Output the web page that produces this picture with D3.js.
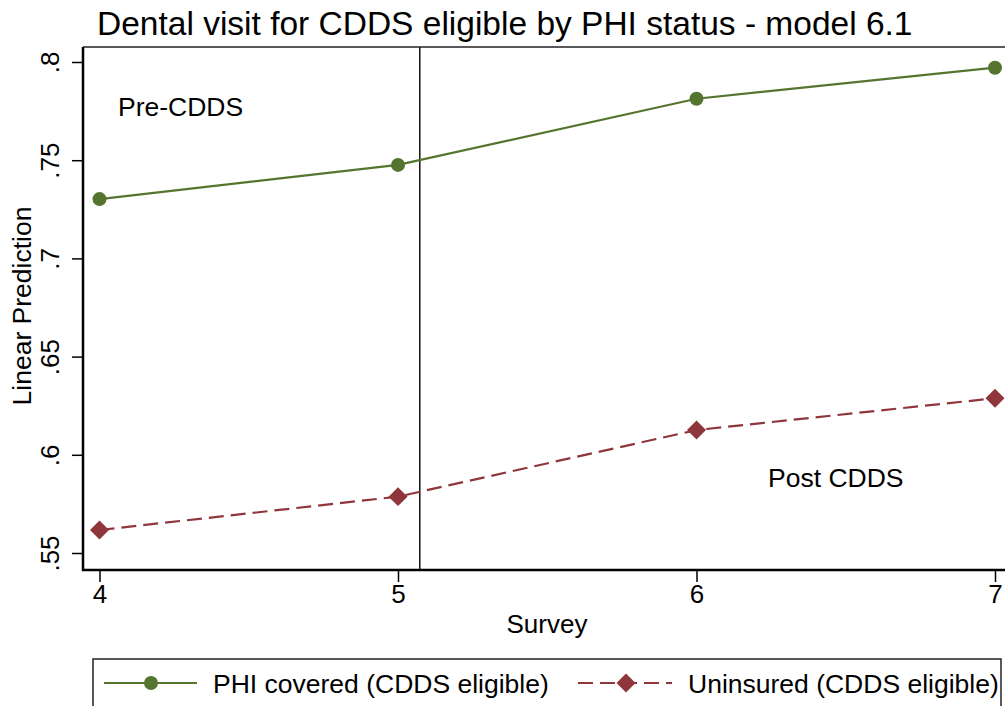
<!DOCTYPE html>
<html>
<head>
<meta charset="utf-8">
<script src="https://cdn.jsdelivr.net/npm/d3@7"></script>
<style>
  html, body { margin: 0; padding: 0; background: #fff; }
  svg { display: block; font-family: "Liberation Sans", Arial, sans-serif; }
</style>
</head>
<body>
<svg id="chart" width="1005" height="706"></svg>
<script>
// Survey waves and predicted probabilities of a dental visit
const surveys = [4, 5, 6, 7];
const phiCovered = [0.7302, 0.7476, 0.7813, 0.7971];
const uninsured = [0.5617, 0.5787, 0.6126, 0.6288];
const yTicks = [0.55, 0.6, 0.65, 0.7, 0.75, 0.8];
const yTickLabels = [".55", ".6", ".65", ".7", ".75", ".8"];
const xTicks = [4, 5, 6, 7];
const policyStart = 5.073;
const seriesNames = ["PHI covered (CDDS eligible)", "Uninsured (CDDS eligible)"];

const green = "#55752f";
const maroon = "#8f353c";

const svg = d3.select("#chart");
const plotLeft = 83, plotTop = 47, plotBottom = 570, plotRight = 1005;

const x = d3.scaleLinear().domain([4, 7]).range([99.5, 995]);
const y = d3.scaleLinear().domain([0.55, 0.8]).range([553, 62]);

// title
svg.append("text")
  .attr("x", 97).attr("y", 35)
  .attr("font-size", 33.5)
  .attr("fill", "#000")
  .text("Dental visit for CDDS eligible by PHI status - model 6.1");

// frame: top border line
svg.append("line")
  .attr("x1", plotLeft).attr("x2", plotRight)
  .attr("y1", plotTop).attr("y2", plotTop)
  .attr("stroke", "#222").attr("stroke-width", 1.5);

// y axis
const yAxis = d3.axisLeft(y)
  .tickValues(yTicks)
  .tickFormat((d, i) => yTickLabels[i])
  .tickSize(11)
  .tickPadding(0);
const gy = svg.append("g").attr("transform", `translate(${plotLeft},0)`).call(yAxis);
gy.select(".domain").remove();
gy.selectAll(".tick line").attr("stroke", "#000").attr("stroke-width", 1.5);
gy.selectAll(".tick text")
  .attr("font-size", 26)
  .attr("fill", "#000")
  .attr("transform", "translate(-24,0) rotate(-90)")
  .attr("x", 0).attr("y", 0).attr("dy", 0)
  .attr("text-anchor", "middle");
gy.append("line")
  .attr("x1", 0).attr("x2", 0).attr("y1", plotTop).attr("y2", plotBottom + 1)
  .attr("stroke", "#000").attr("stroke-width", 2.5);

// x axis
const xAxis = d3.axisBottom(x)
  .tickValues(xTicks)
  .tickFormat(d3.format("d"))
  .tickSize(12)
  .tickPadding(3);
const gx = svg.append("g").attr("transform", `translate(0,${plotBottom})`).call(xAxis);
gx.select(".domain").remove();
gx.selectAll(".tick line").attr("stroke", "#000").attr("stroke-width", 1.5);
gx.selectAll(".tick text").attr("font-size", 26).attr("fill", "#000");
gx.append("line")
  .attr("x1", plotLeft - 1).attr("x2", plotRight).attr("y1", 0).attr("y2", 0)
  .attr("stroke", "#000").attr("stroke-width", 2.5);

// axis titles
svg.append("text")
  .attr("x", 547).attr("y", 633)
  .attr("text-anchor", "middle")
  .attr("font-size", 26)
  .text("Survey");
svg.append("text")
  .attr("transform", "translate(31,306) rotate(-90)")
  .attr("text-anchor", "middle")
  .attr("font-size", 26.5)
  .text("Linear Prediction");

// policy change reference line
svg.append("line")
  .attr("x1", x(policyStart)).attr("x2", x(policyStart))
  .attr("y1", plotTop).attr("y2", plotBottom)
  .attr("stroke", "#111").attr("stroke-width", 1.5);

// period annotations
svg.append("text").attr("x", 118).attr("y", 116).attr("font-size", 26.5).text("Pre-CDDS");
svg.append("text").attr("x", 768).attr("y", 487).attr("font-size", 26.5).text("Post CDDS");

const line = d3.line().x(d => x(d[0])).y(d => y(d[1]));
const phiPts = surveys.map((s, i) => [s, phiCovered[i]]);
const uniPts = surveys.map((s, i) => [s, uninsured[i]]);

svg.append("path").datum(uniPts)
  .attr("d", line).attr("fill", "none")
  .attr("stroke", maroon).attr("stroke-width", 2.2)
  .attr("stroke-dasharray", "15,7");
svg.append("path").datum(phiPts)
  .attr("d", line).attr("fill", "none")
  .attr("stroke", green).attr("stroke-width", 2.2);

const diamond = d3.symbol().type(d3.symbolSquare).size(180);
svg.selectAll(".uni").data(uniPts).enter().append("path")
  .attr("d", diamond)
  .attr("transform", d => `translate(${x(d[0])},${y(d[1])}) rotate(45)`)
  .attr("fill", maroon);
svg.selectAll(".phi").data(phiPts).enter().append("circle")
  .attr("cx", d => x(d[0])).attr("cy", d => y(d[1]))
  .attr("r", 7).attr("fill", green);

// legend
const lg = svg.append("g");
lg.append("rect")
  .attr("x", 93).attr("y", 659).attr("width", 908).attr("height", 60)
  .attr("fill", "#fff").attr("stroke", "#222").attr("stroke-width", 1.5);
const legY = 683;
lg.append("line").attr("x1", 104).attr("x2", 197).attr("y1", legY).attr("y2", legY)
  .attr("stroke", green).attr("stroke-width", 2.2);
lg.append("circle").attr("cx", 151).attr("cy", legY).attr("r", 7).attr("fill", green);
lg.append("text").attr("x", 213).attr("y", 693).attr("font-size", 26.5).text(seriesNames[0]);
lg.append("line").attr("x1", 578).attr("x2", 672).attr("y1", legY).attr("y2", legY)
  .attr("stroke", maroon).attr("stroke-width", 2.2).attr("stroke-dasharray", "15,7");
lg.append("path").attr("d", diamond)
  .attr("transform", `translate(626,${legY}) rotate(45)`).attr("fill", maroon);
lg.append("text").attr("x", 688).attr("y", 693).attr("font-size", 26.5).text(seriesNames[1]);
</script>
</body>
</html>
